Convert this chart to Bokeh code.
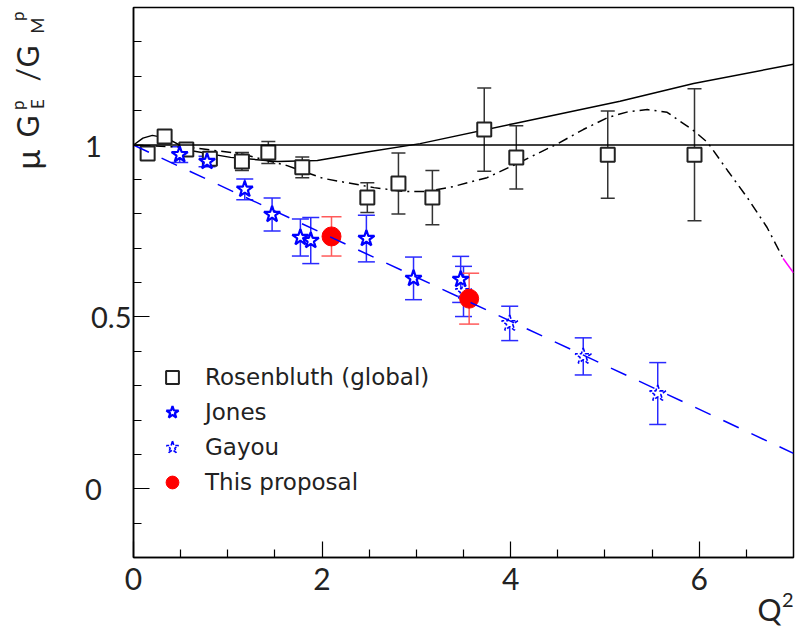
import math
from bokeh.plotting import figure
from bokeh.models import (ColumnDataSource, Whisker, TeeHead, Span, Legend,
                          LegendItem, FixedTicker, Range1d, Title)
from bokeh.embed import file_html
from bokeh.resources import INLINE

# ---------------- data ----------------
ros_q2 = [0.15, 0.33, 0.56, 0.81, 1.15, 1.43, 1.79, 2.48, 2.81, 3.17, 3.72, 4.06, 5.03, 5.95]
ros_r = [0.975, 1.025, 0.987, 0.960, 0.952, 0.978, 0.935, 0.847, 0.888, 0.847, 1.045, 0.964, 0.972, 0.972]
ros_err = [0.012, 0.012, 0.012, 0.014, 0.026, 0.032, 0.030, 0.043, 0.089, 0.079, 0.121, 0.092, 0.127, 0.192]

jones_q2 = [0.49, 0.78, 1.18, 1.47, 1.77, 1.88, 2.47, 2.97, 3.47]
jones_r = [0.972, 0.952, 0.871, 0.798, 0.731, 0.722, 0.728, 0.612, 0.609]
jones_err = [0.023, 0.015, 0.030, 0.048, 0.054, 0.067, 0.068, 0.062, 0.067]

gayou_q2 = [3.50, 3.99, 4.77, 5.56]
gayou_r = [0.574, 0.481, 0.385, 0.277]
gayou_err = [0.073, 0.050, 0.054, 0.090]

prop_q2 = [2.10, 3.56]
prop_r = [0.734, 0.553]
prop_err = [0.057, 0.074]

# solid curve
solid_q2 = [0.0, 0.10, 0.20, 0.35, 0.60, 1.03, 1.53, 1.95, 2.51, 3.04, 4.03, 5.16, 5.94, 7.0]
solid_r = [1.000, 1.020, 1.028, 1.020, 0.984, 0.964, 0.952, 0.955, 0.981, 1.004, 1.062, 1.127, 1.179, 1.235]

# dash-dotted curve
dd_q2 = [0.0, 0.29, 0.60, 1.13, 1.63, 2.01, 2.55, 2.86, 3.12, 3.39, 3.75, 4.07, 4.50, 4.77,
         5.03, 5.25, 5.45, 5.66, 5.94, 6.09, 6.30, 6.51, 6.72, 6.89]
dd_r = [1.000, 0.996, 0.993, 0.975, 0.940, 0.903, 0.876, 0.865, 0.865, 0.879, 0.905, 0.946,
        1.004, 1.045, 1.080, 1.097, 1.103, 1.095, 1.042, 1.007, 0.926, 0.847, 0.760, 0.670]
# its last (magenta) piece
dd_end_q2 = [6.89, 7.0]
dd_end_r = [0.670, 0.628]

# blue dashed straight line
lin_q2 = [0.0, 7.0]
lin_r = [1.0, 0.103]

ref_level = 1.0

NB = "\u00a0"
x_ticks = [0, 2, 4, 6]
x_minor = [0.5, 1.0, 1.5, 2.5, 3.0, 3.5, 4.5, 5.0, 5.5, 6.5]
y_ticks = [0, 0.5, 1]
# labels are left-aligned in the reference: pad the short ones on the right
y_tick_labels = ["0" + NB * 4, "0.5", "1" + NB * 4]
y_minor = [-0.2, -0.1, 0.1, 0.2, 0.3, 0.4, 0.6, 0.7, 0.8, 0.9, 1.1, 1.2, 1.3, 1.4]

legend_labels = ["Rosenbluth (global)", "Jones", "Gayou", "This proposal"]

FONT = "Lato"
LEG_FONT = "DejaVu Sans"
INK = "#222222"

p = figure(width=796, height=635, output_backend="svg", toolbar_location=None,
           x_range=Range1d(0, 7), y_range=Range1d(-0.2, 1.4),
           min_border_left=133, min_border_right=3, min_border_top=7, min_border_bottom=78)
p.xgrid.visible = False
p.ygrid.visible = False
p.outline_line_color = "black"
p.outline_line_width = 1.5
p.background_fill_color = "white"
p.border_fill_color = "white"

for ax in (p.xaxis[0], p.yaxis[0]):
    ax.axis_line_width = 1.5
    ax.axis_line_color = "black"
    ax.major_tick_in = 16
    ax.major_tick_out = 0
    ax.minor_tick_in = 8
    ax.minor_tick_out = 0
    ax.major_tick_line_color = "black"
    ax.minor_tick_line_color = "black"
    ax.major_tick_line_width = 1.2
    ax.minor_tick_line_width = 1.2
    ax.major_label_text_font = FONT
    ax.major_label_text_color = INK

p.xaxis.major_label_text_font_size = "30px"
p.yaxis.major_label_text_font_size = "29px"
p.xaxis.ticker = FixedTicker(ticks=x_ticks, minor_ticks=x_minor)
p.yaxis.ticker = FixedTicker(ticks=y_ticks, minor_ticks=y_minor)
p.xaxis.major_label_overrides = {t: str(t) for t in x_ticks}
p.yaxis.major_label_overrides = dict(zip(y_ticks, y_tick_labels))
p.xaxis.major_label_standoff = 10
p.yaxis.major_label_standoff = 2

def errsrc(q, r, e):
    return ColumnDataSource(dict(x=q, y=r,
                                 lo=[a - b for a, b in zip(r, e)],
                                 hi=[a + b for a, b in zip(r, e)]))

def add_err(src, color, cap, width=1.5):
    w = Whisker(source=src, base="x", lower="lo", upper="hi", dimension="height",
                line_color=color, line_width=width,
                lower_head=TeeHead(size=cap, line_color=color, line_width=width),
                upper_head=TeeHead(size=cap, line_color=color, line_width=width))
    p.add_layout(w)

ros_src = errsrc(ros_q2, ros_r, ros_err)
jones_src = errsrc(jones_q2, jones_r, jones_err)
gayou_src = errsrc(gayou_q2, gayou_r, gayou_err)
prop_src = errsrc(prop_q2, prop_r, prop_err)

add_err(ros_src, "#333333", 14)
add_err(jones_src, "#2a2aff", 17)
add_err(gayou_src, "#2a2aff", 17)
add_err(prop_src, "#ff5a5a", 20)

# curves
p.line(solid_q2, solid_r, line_color="black", line_width=1.5)
p.line(dd_q2, dd_r, line_color="black", line_width=1.5, line_dash="10 5 2 5")
p.line(dd_end_q2, dd_end_r, line_color="magenta", line_width=1.5)
p.add_layout(Span(location=ref_level, dimension="width", line_color="black", line_width=1.5))

# markers
r_ros = p.scatter("x", "y", source=ros_src, marker="square", size=14,
                  fill_color="white", line_color="#222222", line_width=2)
r_jones = p.scatter("x", "y", source=jones_src, marker="star", size=17,
                    fill_color="white", line_color="blue", line_width=2.2)
r_gayou = p.scatter("x", "y", source=gayou_src, marker="star", size=17,
                    fill_color="white", line_color="blue", line_width=1.6, line_dash="4 2")
r_prop = p.scatter("x", "y", source=prop_src, marker="circle", size=19,
                   fill_color="red", line_color="red", line_width=1)

# blue dashed line on top
p.line(lin_q2, lin_r, line_color="blue", line_width=1.5, line_dash="17 14")

legend = Legend(items=[LegendItem(label=legend_labels[0], renderers=[r_ros]),
                       LegendItem(label=legend_labels[1], renderers=[r_jones]),
                       LegendItem(label=legend_labels[2], renderers=[r_gayou]),
                       LegendItem(label=legend_labels[3], renderers=[r_prop])],
                location=(23, 59), glyph_width=32, glyph_height=32, spacing=3,
                padding=0, margin=0, label_standoff=17,
                label_text_font=LEG_FONT, label_text_font_size="23px", label_text_color=INK,
                background_fill_alpha=0, border_line_alpha=0)
p.add_layout(legend)

# ---------- axis titles, built from side-panel titles ----------
FRAME_B = 557  # image y of the frame bottom
H = 1.24       # title box height per font-size unit


def piece(text, start_y, size):
    """(near) zero-width rotated title piece in the left panel, starting at image y = start_y"""
    p.add_layout(Title(text=text, align="left", vertical_align="middle",
                       offset=FRAME_B - start_y, standoff=-(2 + H * size),
                       text_font=FONT, text_font_size=f"{size}px", text_font_style="normal",
                       text_color=INK), "left")


def spacer(width):
    p.add_layout(Title(text=" ", align="left", vertical_align="middle", offset=0,
                       standoff=width - (2 + H * 10), text_font=FONT, text_font_size="10px",
                       text_font_style="normal"), "left")


# y-axis title: mu G_E^p / G_M^p
spacer(44.5)              # from the axis panel edge to the subscript column
piece("E", 108.5, 17)
piece("M", 33, 17)
spacer(11.5)              # to the main column
piece("\u03bc", 169, 33)
piece("G", 137, 30)
piece("/", 81, 30)
piece("G", 67, 30)
spacer(9)                 # to the superscript column
piece("p", 109.5, 17)
piece("p", 20.5, 17)

# x-axis title: Q^2 at the lower right
p.add_layout(Title(text="2", align="right", vertical_align="top", offset=0, standoff=1,
                   text_font=FONT, text_font_size="20px", text_font_style="normal",
                   text_color=INK), "below")
p.add_layout(Title(text="Q", align="right", vertical_align="top", offset=12, standoff=-37,
                   text_font=FONT, text_font_size="30px", text_font_style="normal",
                   text_color=INK), "below")

open("out.html", "w").write(file_html(p, INLINE))
